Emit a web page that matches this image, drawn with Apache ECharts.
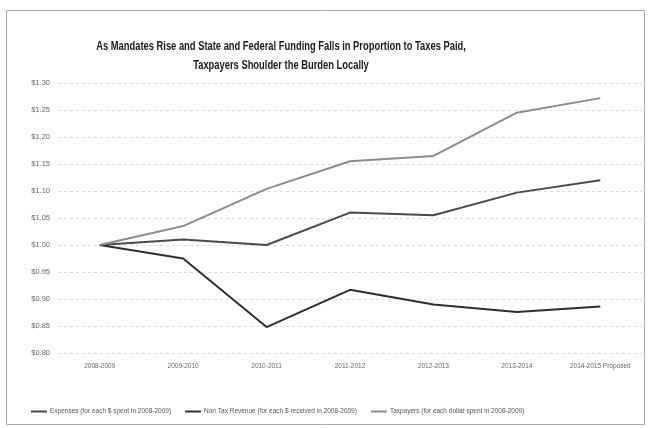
<!DOCTYPE html>
<html><head><meta charset="utf-8">
<script src="https://cdn.jsdelivr.net/npm/echarts@6/dist/echarts.min.js"></script>
<style>html,body{margin:0;padding:0;background:#fff}#c{width:649px;height:428px}</style>
</head><body><div id="c"></div>
<script>
const categories = ['2008-2009','2009-2010','2010-2011','2011-2012','2012-2013','2013-2014','2014-2015 Proposed'];
const expenses = [1.00, 1.01, 1.00, 1.06, 1.055, 1.097, 1.12];
const nonTaxRevenue = [1.00, 0.975, 0.848, 0.917, 0.89, 0.876, 0.886];
const taxpayers = [1.00, 1.035, 1.104, 1.155, 1.165, 1.245, 1.272];
const seriesNames = ['Expenses (for each $ spent in 2008-2009)','Non Tax Revenue (for each $ received in 2008-2009)','Taxpayers (for each dollar spent in 2008-2009)'];
const colors = ['#4a4a4a','#2e2e2e','#8c8c8c'];
const titleLines = ['As Mandates Rise and State and Federal Funding Falls in Proportion to Taxes Paid,','Taxpayers Shoulder the Burden Locally'];

const chart = echarts.init(document.getElementById('c'));
const mk = (name, data, color, w) => ({
  name, type:'line', data, symbol:'none', smooth:false,
  lineStyle:{color, width:w}, itemStyle:{color}
});
const titleFont = 'bold 12px "Liberation Sans", Arial, sans-serif';
chart.setOption({
  backgroundColor:'#fff',
  animation:false,
  legend:{
    top:403, left:26, itemWidth:16, itemHeight:2, itemGap:14, icon:'rect',
    textStyle:{fontFamily:'Liberation Sans, sans-serif', fontSize:6.5, color:'#555', padding:[0,0,0,-2]},
    data:seriesNames
  },
  grid:{left:58, right:7, top:83, bottom:75},
  xAxis:{
    type:'category', data:categories, boundaryGap:true,
    axisLine:{show:false}, axisTick:{show:false},
    axisLabel:{interval:0, fontFamily:'Liberation Sans, sans-serif', fontSize:6.5, color:'#666', margin:10}
  },
  yAxis:{
    type:'value', min:0.8, max:1.3, interval:0.05,
    axisLine:{show:false}, axisTick:{show:false},
    axisLabel:{fontFamily:'Liberation Sans, sans-serif', fontSize:7.5, color:'#666', margin:8,
      formatter:v=>'$'+v.toFixed(2)},
    splitLine:{lineStyle:{color:'#dcdcdc', type:[3,3], width:1}}
  },
  graphic:[
    {type:'rect', shape:{x:6.5, y:10.5, width:638, height:414}, style:{fill:'none', stroke:'#aaa', lineWidth:1}, silent:true, z:-1},
    {type:'text', x:281, y:47, scaleX:0.78, originX:0, originY:0,
      style:{text:titleLines[0], font:titleFont, fill:'#1a1a1a', textAlign:'center', textVerticalAlign:'middle'}},
    {type:'text', x:281, y:66, scaleX:0.78, originX:0, originY:0,
      style:{text:titleLines[1], font:titleFont, fill:'#1a1a1a', textAlign:'center', textVerticalAlign:'middle'}}
  ],
  series:[
    mk(seriesNames[0], expenses, colors[0], 2),
    mk(seriesNames[1], nonTaxRevenue, colors[1], 2),
    mk(seriesNames[2], taxpayers, colors[2], 2)
  ]
});
</script>
</body></html>
